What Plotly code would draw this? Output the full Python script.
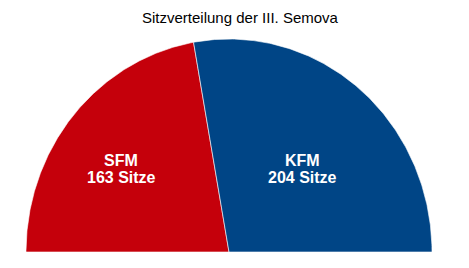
import numpy as np
import plotly.graph_objects as go

parties = ["SFM", "KFM"]
seats = [163, 204]
colors = ["#C5000B", "#004586"]
title_text = "Sitzverteilung der III. Semova"

total = sum(seats)
fig = go.Figure()
start = np.pi
for name, val, col in zip(parties, seats, colors):
    end = start - np.pi * val / total
    th = np.linspace(start, end, 200)
    xs = np.concatenate([[0], np.cos(th), [0]])
    ys = np.concatenate([[0], np.sin(th), [0]])
    fig.add_trace(go.Scatter(x=xs, y=ys, fill="toself", fillcolor=col, mode="lines",
                             line=dict(color="white", width=0.6), hoverinfo="skip",
                             name=name, showlegend=False))
    start = end

# label positions (layout)
label_x = [-0.53, 0.36]
for name, val, lx in zip(parties, seats, label_x):
    fig.add_annotation(x=lx, y=0.43, xref="x", yref="y", text=f"<b>{name}</b>", showarrow=False,
                       font=dict(family="Liberation Sans, Arial", size=16, color="white"))
    fig.add_annotation(x=lx, y=0.35, xref="x", yref="y", text=f"<b>{val} Sitze</b>", showarrow=False,
                       font=dict(family="Liberation Sans, Arial", size=16, color="white"))

fig.add_annotation(xref="paper", yref="paper", x=(240 - 26) / 406, y=1 + (39 - 17) / 213,
                   xanchor="center", yanchor="middle", text=title_text, showarrow=False,
                   font=dict(family="Liberation Sans, Arial", size=15, color="black"))

fig.update_layout(
    width=469, height=268,
    margin=dict(l=26, r=37, t=39, b=16),
    paper_bgcolor="white", plot_bgcolor="white",
    xaxis=dict(range=[-1, 1], visible=False, fixedrange=True),
    yaxis=dict(range=[0, 1], visible=False, fixedrange=True),
)
fig.write_html("out.html")
